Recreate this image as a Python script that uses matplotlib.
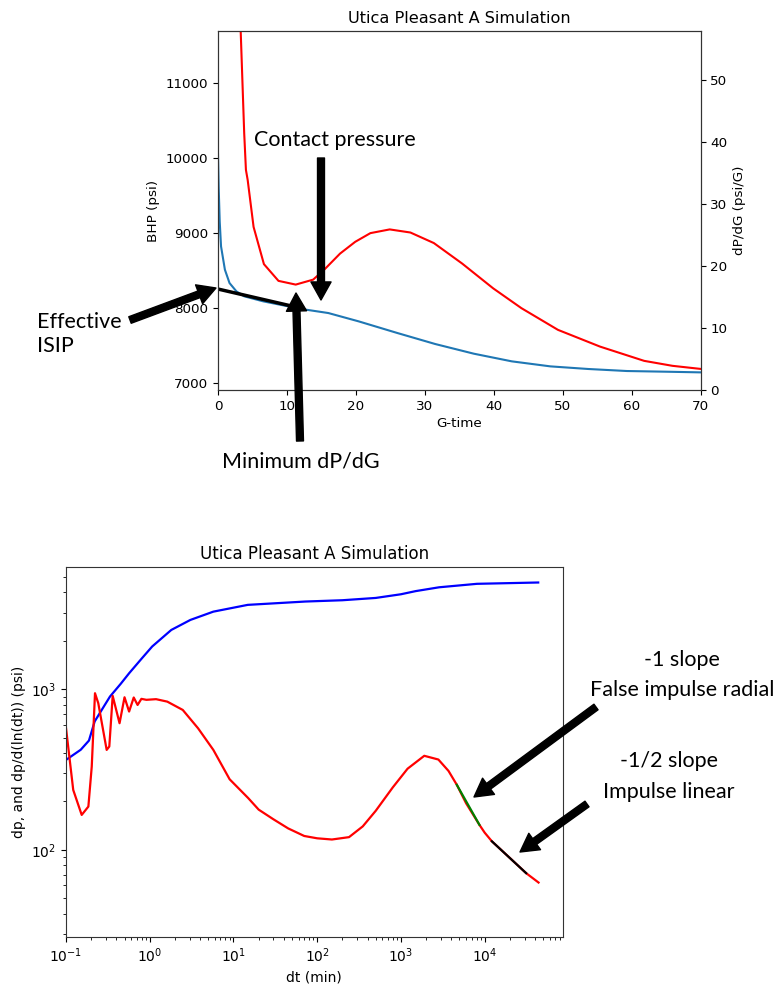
import matplotlib
matplotlib.use('Agg')
import matplotlib.pyplot as plt
from matplotlib.patches import FancyArrowPatch, ArrowStyle

W, H = 783, 989

# ---------------- Top chart: G-function ----------------
g_bhp = [0, 0.1, 0.25, 0.44, 1.0, 1.67, 2.67, 3.8, 6.55, 12.1, 16, 20.4, 26, 31.5,
         37.1, 42.6, 48.2, 53.7, 59.3, 64.9, 70]
bhp = [10050, 9600, 9150, 8822, 8511, 8333, 8222, 8156, 8089, 7987, 7933, 7822, 7667,
       7520, 7391, 7289, 7222, 7187, 7160, 7151, 7142]
g_deriv = [3.0, 3.29, 3.8, 4.05, 4.3, 5.16, 6.66, 8.77, 11.27, 13.8, 15.4, 17.7, 19.9,
           22.1, 24.9, 27.9, 31.3, 35.4, 39.9, 44.0, 49.3, 55.4, 61.8, 65.9, 70]
dpdg = [66, 57.9, 41.4, 35.5, 33.9, 26.3, 20.3, 17.6, 17.0, 17.8, 19.4, 22.0, 23.9,
        25.3, 25.9, 25.4, 23.7, 20.4, 16.4, 13.2, 9.7, 7.0, 4.7, 3.9, 3.4]
tangent_g = [0, 11.3]
tangent_bhp = [8253, 8013]

# ---------------- Bottom chart: log-log ----------------
dt_dp = [0.1, 0.15, 0.188, 0.22, 0.27, 0.335, 0.45, 0.568, 0.8, 1.07, 1.81, 3.06, 5.75,
         14.8, 72, 200, 500, 1000, 1500, 2857, 8100, 43600]
dp = [363, 420, 479, 630, 750, 900, 1080, 1258, 1550, 1845, 2339, 2700, 3040, 3350,
      3514, 3580, 3700, 3900, 4080, 4310, 4530, 4616]
dt_der = [0.1, 0.122, 0.154, 0.185, 0.203, 0.222, 0.243, 0.306, 0.329, 0.361, 0.436,
          0.50, 0.567, 0.644, 0.716, 0.795, 0.912, 1.19, 1.62, 2.48, 3.78, 5.75, 9.0,
          15, 20, 30, 45, 70, 100, 150, 240, 350, 500, 800, 1200, 1900, 2800, 3700,
          4650, 6000, 8670, 10000, 12200, 20000, 31300, 44000]
der = [574, 236, 165, 186, 330, 944, 818, 419, 440, 909, 614, 891, 726, 888, 798, 871,
       859, 867, 837, 743, 571, 419, 275, 210, 178, 155, 136, 122, 118, 116, 120, 140,
       175, 245, 320, 385, 365, 310, 254, 195, 143, 128, 113, 89, 71.6, 62.6]
slope1_t = [4650, 8670]
slope1_v = [254, 143]
slope2_t = [12200, 31300]
slope2_v = [113, 71.6]

title = 'Utica Pleasant A Simulation'

fig = plt.figure(figsize=(W / 100, H / 100), dpi=100)


def fx(px):
    return px / W


def fy(py):
    return 1 - py / H


spine_col = '#333333'

# ---- top axes ----
ax1 = fig.add_axes([fx(218), fy(390), fx(700.7) - fx(218), fy(31) - fy(390)])
ax1.plot(g_bhp, bhp, color='#1f77b4', lw=1.5)
ax1.plot(tangent_g, tangent_bhp, color='black', lw=2.5, solid_capstyle='butt')
ax1.set_xlim(0, 70)
ax1.set_ylim(6907, 11693)
ax1.set_xticks(range(0, 71, 10))
ax1.set_yticks(range(7000, 11001, 1000))
ax1.set_xlabel('G-time', fontsize=9.7, labelpad=3)
ax1.set_ylabel('BHP (psi)', fontsize=9.7)
ax1.set_title(title, fontsize=11.6, pad=6)
ax1.tick_params(labelsize=9.7)
ax2 = ax1.twinx()
ax2.plot(g_deriv, dpdg, color='red', lw=1.5)
ax2.set_ylim(0, 57.9)
ax2.set_yticks(range(0, 51, 10))
ax2.set_ylabel('dP/dG (psi/G)', fontsize=9.7)
ax2.tick_params(labelsize=9.7)
for a in (ax1, ax2):
    for s in a.spines.values():
        s.set_color(spine_col)

# ---- bottom axes ----
ax3 = fig.add_axes([fx(66), fy(936.7), fx(562.7) - fx(66), fy(567.3) - fy(936.7)])
ax3.plot(dt_dp, dp, color='blue', lw=1.6)
ax3.plot(dt_der, der, color='red', lw=1.6)
ax3.plot(slope1_t, slope1_v, color='green', lw=1.6)
ax3.plot(slope2_t, slope2_v, color='black', lw=1.6)
ax3.set_xscale('log')
ax3.set_yscale('log')
ax3.set_xlim(0.1, 85500)
ax3.set_ylim(28.8, 5740)
ax3.set_xlabel('dt (min)', fontsize=10)
ax3.set_ylabel('dp, and dp/d(ln(dt)) (psi)', fontsize=10)
ax3.set_title(title, fontsize=12, pad=6)
ax3.tick_params(labelsize=10)
for s in ax3.spines.values():
    s.set_color(spine_col)

# ---- annotations ----
afont = 'Lato'
asize = 15.5


def arrow(x0, y0, x1, y1):
    st = ArrowStyle('Simple', head_length=1.3, head_width=1.45, tail_width=0.5)
    fig.add_artist(FancyArrowPatch((fx(x0), fy(y0)), (fx(x1), fy(y1)),
                                   transform=fig.transFigure, arrowstyle=st,
                                   mutation_scale=10, color='black',
                                   shrinkA=0, shrinkB=0))


def label(x, y, s, ha='center'):
    fig.text(fx(x), fy(y), s, ha=ha, va='center', fontsize=asize, family=afont,
             color='black')


label(335, 140, 'Contact pressure')
label(37, 322, 'Effective', ha='left')
label(37, 346, 'ISIP', ha='left')
label(301, 462, 'Minimum dP/dG')
label(682, 660, '-1 slope')
label(682, 690, 'False impulse radial')
label(669, 761, '-1/2 slope')
label(669, 792, 'Impulse linear')

arrow(321, 158, 321, 300)
arrow(130, 320, 216, 288)
arrow(300, 441, 296, 293)
arrow(596, 707, 474, 797)
arrow(587, 804, 520, 852)

fig.savefig('out.png', dpi=100)
